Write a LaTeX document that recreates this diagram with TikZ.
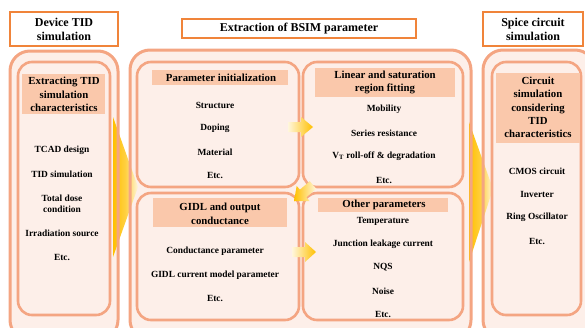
\documentclass[tikz,border=0pt]{standalone}
\usepackage{fontspec}
\setmainfont{Liberation Serif}
\definecolor{bord}{HTML}{F4A582}
\definecolor{tord}{HTML}{F0843A}
\definecolor{boxfill}{HTML}{FDEFE9}
\definecolor{bandc}{HTML}{FAC8AB}
\definecolor{arry}{HTML}{FFC000}
\definecolor{arrw}{HTML}{FFF6DC}
\tikzset{
  obox/.style={rectangle, rounded corners=20pt, fill=boxfill, draw=none, inner sep=0pt, outer sep=0pt},
  oline/.style={draw=bord, line width=3pt, rounded corners=20pt},
  ibox/.style={rectangle, rounded corners=14pt, fill=boxfill, draw=bord, line width=2.6pt, inner sep=0pt, outer sep=0pt},
  band/.style={rectangle, fill=bandc, inner sep=0pt, outer sep=0pt},
  tbox/.style={rectangle, draw=tord, line width=2pt, fill=white, inner sep=0pt, outer sep=0pt},
  ttext/.style={font=\bfseries\fontsize{12}{14.5}\selectfont, align=center, inner sep=0pt},
  head/.style={font=\bfseries\fontsize{10.8}{13.4}\selectfont, align=center, inner sep=0pt},
  item/.style={font=\bfseries\fontsize{9.4}{11}\selectfont, align=center, inner sep=0pt},
  bigarrow/.style={left color=arry, right color=arrw, middle color=arry!70!arrw},
  smallarrow/.style={left color=arrw, right color=arry}
}
\begin{document}
\begin{tikzpicture}[x=1pt, y=-1pt]
\useasboundingbox (0,0) rectangle (585,327);
\clip (0,0) rectangle (585,327);
% title boxes
\node[tbox, minimum width=108pt, minimum height=34pt] (TL) at (64,29) {};
\node[ttext] (TLt) at (64,29.5) {Device TID\\simulation};
\node[tbox, minimum width=234pt, minimum height=19pt] (TM) at (299,28.5) {};
\node[ttext] (TMt) at (299,29) {Extraction of BSIM parameter};
\node[tbox, minimum width=100pt, minimum height=34pt] (TR) at (533,29) {};
\node[ttext] (TRt) at (533,29.5) {Spice circuit\\simulation};
% outer boxes (fill)
\node[obox, minimum width=108pt, minimum height=289pt] (OL) at (64,195.5) {};
\node[obox, minimum width=341pt, minimum height=290pt] (OM) at (300.5,195) {};
\node[obox, minimum width=112pt, minimum height=290pt] (OR) at (539,195) {};
% big arrows
\shade[bigarrow] (113,117) -- (138,187) -- (113,257) -- cycle;
\shade[bigarrow] (469,122) -- (493,189) -- (469,262) -- cycle;
% outer borders
\draw[oline] (OL.south west) rectangle (OL.north east);
\draw[oline] (OM.south west) rectangle (OM.north east);
\draw[oline] (OR.south west) rectangle (OR.north east);
% inner boxes
\node[ibox, minimum width=92pt, minimum height=253pt] (IL) at (64,188.5) {};
\node[ibox, minimum width=162pt, minimum height=125pt] (ITL) at (218,124.5) {};
\node[ibox, minimum width=160pt, minimum height=125pt] (ITR) at (383,124.5) {};
\node[ibox, minimum width=162pt, minimum height=127pt] (IBL) at (218,256.5) {};
\node[ibox, minimum width=160pt, minimum height=127pt] (IBR) at (383,256.5) {};
\node[ibox, minimum width=89pt, minimum height=253pt] (IR) at (536.5,188.5) {};
% bands
\node[band, minimum width=83pt, minimum height=40pt] (BL) at (63.5,94) {};
\node[band, minimum width=136pt, minimum height=15pt] (BTL) at (220,77.5) {};
\node[band, minimum width=140pt, minimum height=29pt] (BTR) at (385,82.5) {};
\node[band, minimum width=134pt, minimum height=29pt] (BBL) at (220,212.5) {};
\node[band, minimum width=130pt, minimum height=14pt] (BBR) at (383,205) {};
\node[band, minimum width=84pt, minimum height=70pt] (BR) at (538,108) {};
% headers
\node[head] (HL) at (64,94.5) {Extracting TID\\simulation\\characteristics};
\node[head] (HTL) at (221,78) {Parameter initialization};
\node[head] (HTR) at (385,82.5) {Linear and saturation\\region fitting};
\node[head] (HBL) at (220,214) {GIDL and output\\conductance};
\node[head] (HBR) at (384,205) {Other parameters};
\node[head] (HR) at (538,107.5) {Circuit\\simulation\\considering\\TID\\characteristics};
% left items
\node[item] (l1) at (62,150) {TCAD design};
\node[item] (l2) at (62,174) {TID simulation};
\node[item] (l3) at (62,203.5) {Total dose\\condition};
\node[item] (l4) at (62,233) {Irradiation source};
\node[item] (l5) at (62,257) {Etc.};
% param init items
\node[item] (a1) at (215,105) {Structure};
\node[item] (a2) at (215,128) {Doping};
\node[item] (a3) at (215,152) {Material};
\node[item] (a4) at (215,175) {Etc.};
% linear items
\node[item] (b1) at (384,109) {Mobility};
\node[item] (b2) at (384,133) {Series resistance};
\node[item] (b3) at (384,156) {V\textsubscript{T} roll-off \& degradation};
\node[item] (b4) at (384,180) {Etc.};
% GIDL items
\node[item] (c1) at (215,251) {Conductance parameter};
\node[item] (c2) at (215,275) {GIDL current model parameter};
\node[item] (c3) at (215,298) {Etc.};
% other items
\node[item] (d1) at (383,221) {Temperature};
\node[item] (d2) at (383,244) {Junction leakage current};
\node[item] (d3) at (383,267) {NQS};
\node[item] (d4) at (383,291) {Noise};
\node[item] (d5) at (383,314) {Etc.};
% right items
\node[item] (r1) at (537,171) {CMOS circuit};
\node[item] (r2) at (537,194) {Inverter};
\node[item] (r3) at (537,217) {Ring Oscillator};
\node[item] (r4) at (537,241) {Etc.};
% small arrows
\shade[smallarrow] (288,122) -- (301,122) -- (301,117) -- (313,127) -- (301,137) -- (301,132) -- (288,132) -- cycle;
\shade[smallarrow] (292,247) -- (305,247) -- (305,242) -- (316,252) -- (305,262) -- (305,257) -- (292,257) -- cycle;
\shade[left color=arry, right color=arrw] (309.75,181.21) -- (299.9,189.66) -- (296.65,185.87) -- (294.05,201.25) -- (309.65,201.03) -- (306.4,197.24) -- (316.25,188.79) -- cycle;
\end{tikzpicture}
\end{document}
